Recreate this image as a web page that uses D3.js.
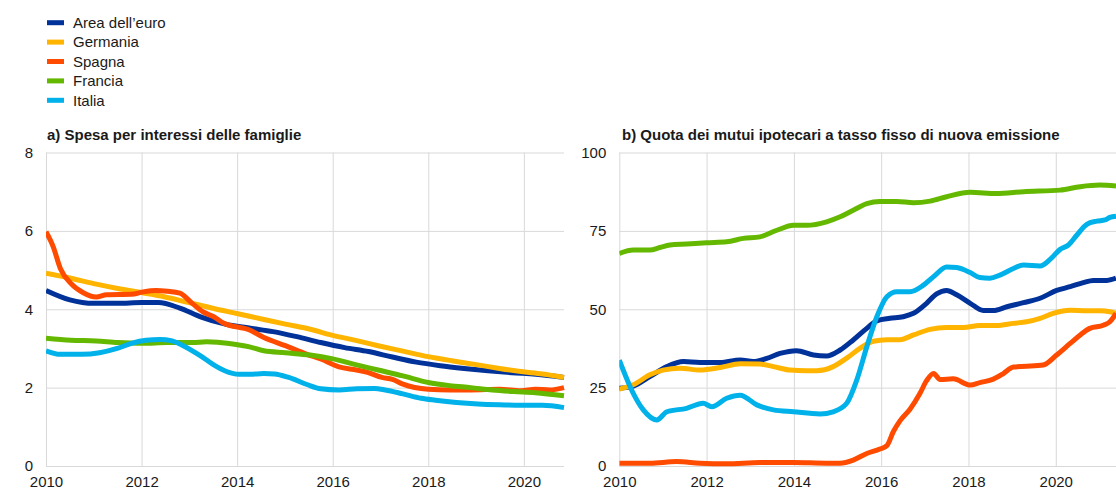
<!DOCTYPE html>
<html>
<head>
<meta charset="utf-8">
<script src="https://cdn.jsdelivr.net/npm/d3@7"></script>
<style>
  html, body { margin: 0; padding: 0; background: #fff; }
  svg { display: block; font-family: "Liberation Sans", Arial, sans-serif; }
</style>
</head>
<body>
<svg id="chart" width="1116" height="497"></svg>
<script>
// Series names and colours
const seriesNames = ["Area dell\u2019euro", "Germania", "Spagna", "Francia", "Italia"];
const seriesColors = ["#003299", "#ffb400", "#ff4b00", "#65b800", "#00b1ea"];

// Panel a: household interest expense, [year, value]
const euroA = [[2010.0,4.48],[2010.5,4.24],[2011.0,4.15],[2011.5,4.15],[2012.0,4.17],[2012.35,4.17],[2012.8,4.03],[2013.25,3.80],[2013.75,3.62],[2014.25,3.52],[2014.75,3.43],[2015.25,3.30],[2015.75,3.15],[2016.25,3.02],[2016.75,2.92],[2017.25,2.78],[2017.75,2.65],[2018.25,2.56],[2018.75,2.49],[2019.25,2.43],[2019.75,2.38],[2020.25,2.34],[2020.84,2.26]];
const germaniaA = [[2010.0,4.92],[2010.52,4.79],[2011.05,4.64],[2011.5,4.53],[2012.02,4.42],[2012.47,4.32],[2012.99,4.17],[2013.51,4.02],[2014.04,3.88],[2014.56,3.74],[2015.01,3.62],[2015.53,3.49],[2015.98,3.34],[2016.5,3.20],[2016.95,3.07],[2017.47,2.93],[2018.0,2.79],[2018.52,2.68],[2019.04,2.58],[2019.49,2.49],[2019.94,2.41],[2020.39,2.35],[2020.84,2.26]];
const spagnaA = [[2010.0,5.98],[2010.15,5.6],[2010.3,5.04],[2010.52,4.66],[2010.78,4.42],[2011.05,4.31],[2011.27,4.37],[2011.79,4.38],[2012.02,4.44],[2012.3,4.48],[2012.54,4.46],[2012.8,4.41],[2013.06,4.15],[2013.29,3.93],[2013.51,3.81],[2013.71,3.65],[2014.26,3.47],[2014.56,3.28],[2015.01,3.07],[2015.46,2.85],[2015.75,2.73],[2016.13,2.53],[2016.5,2.45],[2016.73,2.39],[2017.03,2.26],[2017.25,2.21],[2017.47,2.09],[2018.0,1.96],[2018.45,1.94],[2018.89,1.94],[2019.49,1.96],[2019.94,1.92],[2020.24,1.96],[2020.54,1.94],[2020.84,2.0]];
const franciaA = [[2010.0,3.26],[2010.52,3.21],[2011.05,3.19],[2011.5,3.15],[2012.02,3.13],[2012.54,3.15],[2013.06,3.15],[2013.36,3.17],[2013.59,3.16],[2014.04,3.09],[2014.26,3.04],[2014.56,2.94],[2015.01,2.89],[2015.53,2.83],[2015.98,2.74],[2016.5,2.58],[2016.95,2.45],[2017.47,2.30],[2018.0,2.13],[2018.45,2.05],[2018.89,2.0],[2019.34,1.94],[2019.79,1.90],[2020.24,1.87],[2020.84,1.79]];
const italiaA = [[2010.0,2.94],[2010.3,2.85],[2010.75,2.85],[2011.12,2.89],[2011.49,3.0],[2011.79,3.13],[2012.09,3.21],[2012.39,3.23],[2012.62,3.2],[2012.84,3.09],[2013.21,2.83],[2013.51,2.58],[2013.74,2.43],[2014.04,2.34],[2014.26,2.34],[2014.56,2.36],[2014.78,2.35],[2015.08,2.26],[2015.46,2.08],[2015.75,1.97],[2016.13,1.94],[2016.5,1.97],[2016.88,1.98],[2017.1,1.94],[2017.47,1.84],[2017.85,1.73],[2018.15,1.68],[2018.59,1.62],[2019.04,1.58],[2019.49,1.56],[2019.94,1.55],[2020.39,1.55],[2020.84,1.49]];

// Panel b: share of new fixed-rate mortgages, [year, percent]
const euroB = [[2010.0,24.8],[2010.32,25.5],[2010.7,28.5],[2011.09,31.7],[2011.47,33.3],[2011.85,33.0],[2012.31,33.0],[2012.77,33.8],[2013.07,33.3],[2013.38,34.3],[2013.68,35.9],[2014.06,36.8],[2014.45,35.4],[2014.75,35.1],[2015.06,37.0],[2015.36,40.2],[2015.67,43.9],[2015.9,46.3],[2016.2,47.1],[2016.5,47.6],[2016.74,48.7],[2017.04,51.9],[2017.27,54.9],[2017.5,56.0],[2017.73,54.6],[2018.04,51.9],[2018.34,49.6],[2018.57,49.6],[2018.88,50.8],[2019.26,52.1],[2019.64,53.5],[2020.02,56.0],[2020.33,57.2],[2020.63,58.5],[2020.86,59.2],[2021.17,59.2],[2021.38,59.9]];
const germaniaB = [[2010.0,24.5],[2010.32,25.9],[2010.7,29.1],[2011.0,30.6],[2011.39,31.2],[2011.85,30.6],[2012.31,31.4],[2012.77,32.6],[2013.22,32.5],[2013.53,31.7],[2013.91,30.6],[2014.29,30.4],[2014.52,30.4],[2014.9,31.7],[2015.21,34.4],[2015.52,37.6],[2015.82,39.8],[2016.13,40.3],[2016.43,40.3],[2016.74,41.8],[2017.12,43.6],[2017.5,44.2],[2017.88,44.2],[2018.26,44.8],[2018.64,44.8],[2019.03,45.5],[2019.33,46.0],[2019.64,47.1],[2019.94,48.7],[2020.33,49.7],[2020.71,49.5],[2021.01,49.5],[2021.24,49.2],[2021.38,48.7]];
const spagnaB = [[2010.0,0.9],[2010.7,0.9],[2011.31,1.4],[2011.85,0.9],[2012.46,0.7],[2013.22,1.1],[2013.99,1.1],[2014.75,0.9],[2015.06,0.9],[2015.36,1.9],[2015.67,4.0],[2015.97,5.4],[2016.13,6.5],[2016.28,11.0],[2016.43,14.4],[2016.66,18.1],[2016.89,23.2],[2017.04,27.2],[2017.2,29.5],[2017.35,27.6],[2017.65,27.8],[2018.04,25.8],[2018.26,26.6],[2018.57,27.7],[2018.8,29.5],[2019.03,31.6],[2019.33,31.8],[2019.71,32.2],[2020.02,35.4],[2020.33,39.1],[2020.56,41.8],[2020.78,43.9],[2021.09,44.9],[2021.24,46.0],[2021.38,48.7]];
const franciaB = [[2010.0,67.8],[2010.32,68.9],[2010.7,68.9],[2010.93,69.7],[2011.16,70.5],[2011.54,70.8],[2012.0,71.2],[2012.46,71.5],[2012.84,72.6],[2013.22,73.1],[2013.61,75.2],[2013.99,76.8],[2014.29,76.8],[2014.75,77.9],[2015.06,79.5],[2015.36,81.6],[2015.67,83.7],[2015.97,84.4],[2016.36,84.4],[2016.74,84.0],[2017.12,84.5],[2017.5,85.9],[2018.04,87.3],[2018.64,86.9],[2019.26,87.5],[2020.1,88.0],[2020.56,89.1],[2021.01,89.6],[2021.38,89.3]];
const italiaB = [[2010.0,33.8],[2010.32,23.2],[2010.55,17.9],[2010.86,14.7],[2011.09,17.3],[2011.54,18.4],[2011.92,20.0],[2012.12,18.9],[2012.46,21.6],[2012.77,22.6],[2013.15,19.5],[2013.53,17.9],[2013.99,17.3],[2014.6,16.6],[2014.9,17.3],[2015.21,20.0],[2015.44,27.4],[2015.67,38.0],[2015.9,47.6],[2016.13,54.0],[2016.36,55.6],[2016.66,55.6],[2016.97,57.7],[2017.2,60.4],[2017.5,63.5],[2017.73,63.3],[2018.04,61.7],[2018.26,60.1],[2018.49,59.9],[2018.72,60.9],[2019.03,63.0],[2019.26,64.1],[2019.64,63.8],[2019.87,65.9],[2020.1,69.1],[2020.29,70.5],[2020.48,73.6],[2020.71,77.1],[2020.94,78.1],[2021.13,78.5],[2021.24,79.3],[2021.38,79.7]];

// Axis ticks
const xTicks = [2010, 2012, 2014, 2016, 2018, 2020];
const yTicksA = [0, 2, 4, 6, 8];
const yTicksB = [0, 25, 50, 75, 100];

const titleA = "a) Spesa per interessi delle famiglie";
const titleB = "b) Quota dei mutui ipotecari a tasso fisso di nuova emissione";

const svg = d3.select("#chart");
const gridColor = "#d9d9d9";
const textColor = "#1a1a1a";
const fontFamily = "'Liberation Sans', Arial, sans-serif";

// Legend
const legend = svg.append("g");
seriesNames.forEach((name, i) => {
  const y = 22.7 + i * 19.4;
  legend.append("rect").attr("x", 47).attr("y", y - 2.5).attr("width", 17).attr("height", 5)
    .attr("fill", seriesColors[i]);
  legend.append("text").attr("x", 73).attr("y", y).attr("dy", "0.35em")
    .attr("font-size", 15).attr("fill", textColor).text(name);
});

function panel(cfg) {
  const x = d3.scaleLinear().domain(cfg.xDomain).range([cfg.left, cfg.right]);
  const y = d3.scaleLinear().domain(cfg.yDomain).range([466, 152.5]);
  const g = svg.append("g");

  g.append("text").attr("x", cfg.titleX).attr("y", 140)
    .attr("font-size", 15).attr("font-weight", "bold").attr("fill", textColor).text(cfg.title);

  // horizontal grid with value labels
  const yAxis = d3.axisLeft(y).tickValues(cfg.yTicks).tickSize(-(cfg.right - cfg.left)).tickPadding(13);
  const ya = g.append("g").attr("transform", `translate(${cfg.left},0)`).call(yAxis);
  ya.select(".domain").remove();
  ya.selectAll(".tick line").attr("stroke", gridColor).attr("stroke-width", 1);
  ya.selectAll(".tick text").attr("font-size", 15).attr("fill", textColor).attr("font-family", fontFamily);

  // vertical grid with year labels
  const xAxis = d3.axisBottom(x).tickValues(cfg.xTicks).tickFormat(d3.format("d"))
    .tickSize(-(466 - 152.5)).tickPadding(10);
  const xa = g.append("g").attr("transform", "translate(0,466)").call(xAxis);
  xa.select(".domain").remove();
  xa.selectAll(".tick line").attr("stroke", gridColor).attr("stroke-width", 1);
  xa.selectAll(".tick text").attr("font-size", 15).attr("fill", textColor).attr("font-family", fontFamily);

  const clipId = "clip-" + cfg.id;
  svg.append("clipPath").attr("id", clipId).append("rect")
    .attr("x", cfg.left).attr("y", 140).attr("width", cfg.right - cfg.left + 4).attr("height", 340);

  const line = d3.line().x(d => x(d[0])).y(d => y(d[1])).curve(d3.curveMonotoneX);
  const lines = g.append("g").attr("clip-path", `url(#${clipId})`);
  cfg.series.forEach((data, i) => {
    lines.append("path").datum(data).attr("d", line)
      .attr("fill", "none").attr("stroke", seriesColors[i])
      .attr("stroke-width", 5).attr("stroke-linejoin", "round");
  });
}

panel({
  id: "a", title: titleA, titleX: 47,
  xDomain: [2010, 2020.84], left: 46, right: 564,
  yDomain: [0, 8], yTicks: yTicksA, xTicks: xTicks,
  series: [euroA, germaniaA, spagnaA, franciaA, italiaA]
});

panel({
  id: "b", title: titleB, titleX: 622,
  xDomain: [2010, 2021.38], left: 619.3, right: 1116,
  yDomain: [0, 100], yTicks: yTicksB, xTicks: xTicks,
  series: [euroB, germaniaB, spagnaB, franciaB, italiaB]
});
</script>
</body>
</html>
